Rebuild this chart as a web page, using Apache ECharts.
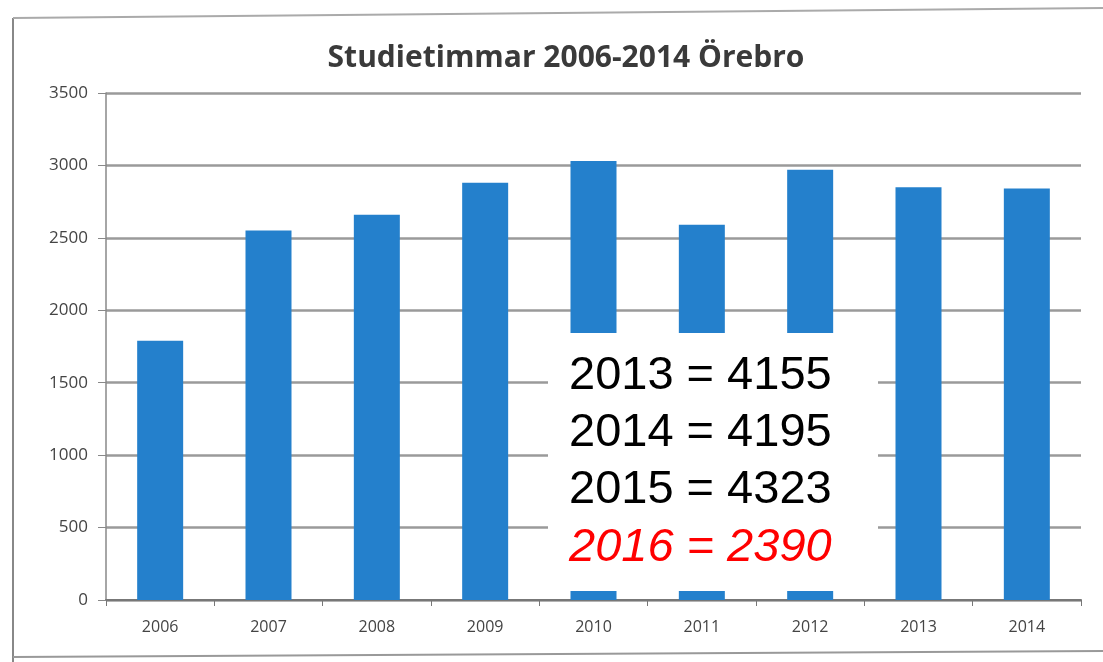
<!DOCTYPE html>
<html>
<head>
<meta charset="utf-8">
<script src="https://cdn.jsdelivr.net/npm/echarts@6/dist/echarts.min.js"></script>
<style>
  html, body { margin: 0; padding: 0; background: #fff; }
  #main { width: 1103px; height: 662px; }
</style>
</head>
<body>
<div id="main"></div>
<script>
const years = ['2006', '2007', '2008', '2009', '2010', '2011', '2012', '2013', '2014'];
const hours = [1790, 2550, 2660, 2880, 3030, 2590, 2970, 2850, 2840];
const noteLines = ['2013 = 4155', '2014 = 4195', '2015 = 4323', '2016 = 2390'];

const chart = echarts.init(document.getElementById('main'));

// the overlay box with later years
const noteTexts = noteLines.map((t, i) => {
    const last = i === noteLines.length - 1;
    return {
        type: 'text',
        left: 569,
        top: 353 + i * 57,
        z: 101,
        style: {
            text: t,
            fill: last ? '#ff0000' : '#000',
            font: (last ? 'italic ' : '') + '47px "Liberation Sans", Arial, sans-serif'
        }
    };
});

chart.setOption({
    animation: false,
    title: {
        text: 'Studietimmar 2006-2014 Örebro',
        left: 561,
        top: 38,
        textAlign: 'center',
        textStyle: {
            fontFamily: '"Open Sans", sans-serif',
            fontSize: 30,
            fontWeight: 'bold',
            color: '#3a3a3a'
        }
    },
    grid: { left: 106, right: 22, top: 93, bottom: 62 },
    xAxis: {
        type: 'category',
        data: years,
        axisLine: { lineStyle: { color: '#777', width: 2 } },
        axisTick: { show: true, length: 6, lineStyle: { color: '#777' } },
        axisLabel: {
            margin: 19,
            fontFamily: '"Open Sans", sans-serif',
            fontSize: 16,
            color: '#444'
        }
    },
    yAxis: {
        type: 'value',
        min: 0,
        max: 3500,
        interval: 500,
        axisLine: { show: true, lineStyle: { color: '#888', width: 1.5 } },
        axisTick: { show: true, length: 8, inside: false, lineStyle: { color: '#888' } },
        axisLabel: {
            margin: 18,
            formatter: v => String(v),
            fontFamily: '"Open Sans", sans-serif',
            fontSize: 17,
            color: '#444'
        },
        splitLine: { lineStyle: { color: '#9a9a9a', width: 2.5 } }
    },
    series: [{
        type: 'bar',
        data: hours,
        barWidth: 46,
        itemStyle: { color: '#2480cc' }
    }],
    graphic: [
        // photo frame edges
        { type: 'line', shape: { x1: 13, y1: 18, x2: 13, y2: 662 }, style: { stroke: '#888', lineWidth: 2 } },
        { type: 'line', shape: { x1: 13, y1: 18, x2: 1103, y2: 8 }, style: { stroke: '#aaa', lineWidth: 2 } },
        { type: 'line', shape: { x1: 13, y1: 657, x2: 1103, y2: 651 }, style: { stroke: '#999', lineWidth: 2 } },
        {
            type: 'rect',
            shape: { x: 548, y: 333, width: 330, height: 258 },
            z: 100,
            style: { fill: '#fff' }
        }
    ].concat(noteTexts)
});
</script>
</body>
</html>
